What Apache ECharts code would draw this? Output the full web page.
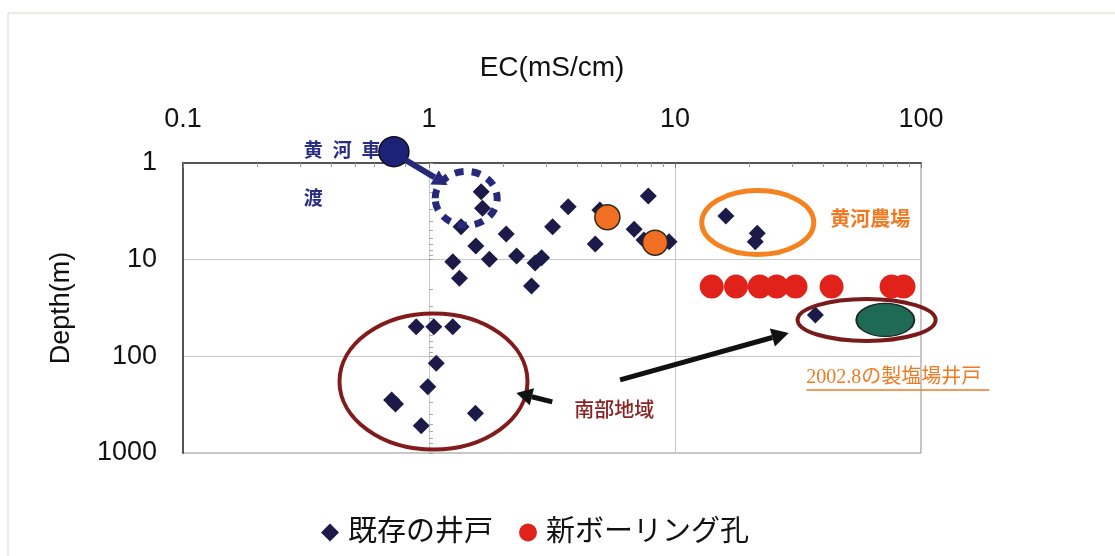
<!DOCTYPE html>
<html>
<head>
<meta charset="utf-8">
<script src="https://cdn.jsdelivr.net/npm/echarts@6/dist/echarts.min.js"></script>
<style>
  html, body { margin: 0; padding: 0; background: #fff; }
  #main { width: 1115px; height: 556px; }
</style>
</head>
<body>
<div id="main"></div>
<script>
// 既存の井戸: EC(mS/cm) と 深度(m)
var wellEC = [1.63, 1.65, 1.35, 2.06, 1.55, 1.25, 1.76, 1.33, 2.27, 2.87, 2.70, 2.61,
  3.18, 3.68, 4.74, 4.95, 7.79, 6.82, 9.46, 7.48,
  16.1, 21.6, 21.2, 37.2,
  0.887, 1.046, 1.249, 1.07, 0.989, 0.731, 0.705, 0.930, 1.544];
var wellDepth = [1.98, 2.94, 4.56, 5.42, 7.22, 10.5, 9.9, 15.6, 9.16, 9.53, 10.8, 18.7,
  4.56, 2.83, 6.88, 3.06, 2.19, 4.85, 6.51, 6.26,
  3.53, 5.33, 6.51, 37.3,
  49.3, 49.3, 49.3, 118, 206, 311, 283, 524, 388];

// 新ボーリング孔
var boreEC = [14.1, 17.7, 22.1, 25.9, 30.9, 43.3, 75.9, 84.9];
var boreDepth = [19, 19, 19, 19, 19, 19, 19, 19];

// 強調した井戸（オレンジ）
var pickEC = [5.31, 8.30];
var pickDepth = [3.64, 6.67];

// 黄河車渡 の地点
var ferryEC = [0.72];
var ferryDepth = [0.764];

// 2002.8 製塩場井戸
var saltEC = [71.6];
var saltDepth = [42.0];

var seriesNames = ['既存の井戸', '新ボーリング孔'];

function zip(xs, ys) {
  var out = [];
  for (var i = 0; i < xs.length; i++) out.push([xs[i], ys[i]]);
  return out;
}

var chart = echarts.init(document.getElementById('main'));

var option = {
  animation: false,
  backgroundColor: '#fff',
  textStyle: { fontFamily: '"Liberation Sans", "Noto Sans CJK JP", sans-serif' },
  grid: {
    left: 183, right: 194, top: 163, bottom: 103,
    show: true, borderColor: '#8a8a8a', borderWidth: 1
  },
  legend: {
    data: [
      { name: seriesNames[0], icon: 'diamond' },
      { name: seriesNames[1], icon: 'circle' }
    ],
    left: 316, top: 513,
    itemWidth: 18, itemHeight: 18, itemGap: 26,
    textStyle: { fontSize: 29, color: '#111', padding: [0, 0, 0, 4] }
  },
  xAxis: {
    type: 'log', logBase: 10, min: 0.1, max: 100,
    position: 'top',
    name: 'EC(mS/cm)', nameLocation: 'middle', nameGap: 81,
    nameTextStyle: { fontSize: 28, color: '#111' },
    axisLine: { lineStyle: { color: '#555', width: 2 } },
    axisTick: { inside: true, length: 5, lineStyle: { color: '#777' } },
    minorTick: { show: true, splitNumber: 9, length: 4, lineStyle: { color: '#999' } },
    axisLabel: { fontSize: 27, color: '#111', margin: 30 },
    splitLine: { show: true, lineStyle: { color: '#c8c8c8' } }
  },
  yAxis: [{
    type: 'log', logBase: 10, min: 1, max: 1000, inverse: true,
    name: 'Depth(m)', nameLocation: 'middle', nameRotate: 90, nameGap: 108,
    nameTextStyle: { fontSize: 27, color: '#111' },
    axisLine: { show: true, lineStyle: { color: '#555', width: 2 } },
    axisTick: { show: false },
    axisLabel: { fontSize: 27, color: '#111', margin: 26, formatter: function (v) { return String(v); } },
    splitLine: { show: true, lineStyle: { color: '#c8c8c8' } }
  }, {
    type: 'log', logBase: 10, min: 1, max: 1000, inverse: true,
    position: 'left', offset: -246,
    axisLine: { show: false },
    axisTick: { show: true, inside: true, length: 4, lineStyle: { color: '#999' } },
    minorTick: { show: true, splitNumber: 9, length: 4, lineStyle: { color: '#aaa' } },
    axisLabel: { show: false },
    splitLine: { show: false }
  }],
  series: [{
    name: seriesNames[0],
    type: 'scatter',
    symbol: 'diamond', symbolSize: 17,
    itemStyle: { color: '#1b1a48', opacity: 1 },
    data: zip(wellEC, wellDepth),
    z: 3
  }, {
    name: seriesNames[1],
    type: 'scatter',
    symbol: 'circle', symbolSize: 24,
    itemStyle: { color: '#e0221a', opacity: 1 },
    data: zip(boreEC, boreDepth),
    z: 3
  }, {
    name: 'pick',
    type: 'scatter',
    symbol: 'circle', symbolSize: 25,
    itemStyle: { color: '#f26e22', borderColor: '#2a2a1a', borderWidth: 1.5, opacity: 1 },
    data: zip(pickEC, pickDepth),
    z: 4
  }, {
    name: 'ferry',
    type: 'scatter',
    symbol: 'circle', symbolSize: 30,
    clip: false,
    itemStyle: { color: '#1d2278', borderColor: '#111', borderWidth: 1.5, opacity: 1 },
    data: zip(ferryEC, ferryDepth),
    z: 6
  }, {
    name: 'salt',
    type: 'scatter',
    symbol: 'circle', symbolSize: [58, 33],
    itemStyle: { color: '#1f6a55', borderColor: '#1a2a22', borderWidth: 1.5, opacity: 1 },
    data: zip(saltEC, saltDepth),
    z: 4
  }]
};

chart.setOption(option);

// 注記（データ座標で位置を決める）
function px(p) {
  return chart.convertToPixel({ xAxisIndex: 0, yAxisIndex: 0 }, p);
}

function arrow(a, b, color, w, head) {
  var p1 = px(a), p2 = px(b);
  var ang = Math.atan2(p2[1] - p1[1], p2[0] - p1[0]);
  var bx = p2[0] - head * Math.cos(ang), by = p2[1] - head * Math.sin(ang);
  var nx = -Math.sin(ang) * head * 0.55, ny = Math.cos(ang) * head * 0.55;
  return [{
    type: 'line', z: 10,
    shape: { x1: p1[0], y1: p1[1], x2: bx, y2: by },
    style: { stroke: color, lineWidth: w }
  }, {
    type: 'polygon', z: 10,
    shape: { points: [[p2[0], p2[1]], [bx + nx, by + ny], [bx - nx, by - ny]] },
    style: { fill: color }
  }];
}

function ring(c, rx, ry, color, w, dash) {
  var p = px(c);
  return {
    type: 'ellipse', z: 8,
    shape: { cx: p[0], cy: p[1], rx: rx, ry: ry },
    style: { fill: null, stroke: color, lineWidth: w, lineDash: dash || null }
  };
}

function label(c, text, font, color) {
  var p = px(c);
  return {
    type: 'text', z: 5,
    x: p[0], y: p[1],
    style: {
      text: text, font: font, fill: color,
      textAlign: 'left', textVerticalAlign: 'middle'
    }
  };
}

var jp = '"Noto Sans CJK JP", sans-serif';
var navy = '#2a2d84';
var uPos = px([34.2, 167.2]);
var els = [
  {
    type: 'rect', z: -1, silent: true,
    shape: { x: 8, y: 13, width: 1200, height: 700 },
    style: { fill: null, stroke: '#d8d8cc', lineWidth: 1 }
  },
  ring([1.416, 2.32], 31, 27, '#26287a', 7, [9, 8]),
  ring([21.7, 4.12], 56, 32, '#f5821f', 5),
  ring([1.043, 181.8], 94, 68, '#821c1c', 4),
  ring([60.1, 42.0], 69, 21, '#7a1a1a', 4),
  label([0.31, 0.734], '黄', 'bold 19px ' + jp, navy),
  label([0.406, 0.734], '河', 'bold 19px ' + jp, navy),
  label([0.532, 0.734], '車', 'bold 19px ' + jp, navy),
  label([0.31, 2.30], '渡', 'bold 19px ' + jp, navy),
  label([42.8, 3.71], '黄河農場', 'bold 20px ' + jp, '#f07a22'),
  label([3.89, 358], '南部地域', '500 20px ' + jp, '#8a2424'),
  label([34.2, 167.2], '2002.8の製塩場井戸', '20px "Liberation Serif", ' + jp, '#f07a22'),
  {
    type: 'line', z: 5,
    shape: { x1: uPos[0], y1: uPos[1] + 12, x2: uPos[0] + 183, y2: uPos[1] + 12 },
    style: { stroke: '#f07a22', lineWidth: 1.5 }
  }
];
els = els.concat(arrow([0.803, 0.931], [1.189, 1.689], '#26287a', 6, 15));
els = els.concat(arrow([3.17, 296], [2.265, 239], '#111', 5, 16));
els = els.concat(arrow([5.98, 175.4], [29.0, 57.3], '#111', 5, 17));

chart.setOption({ graphic: { elements: els } });
</script>
</body>
</html>
